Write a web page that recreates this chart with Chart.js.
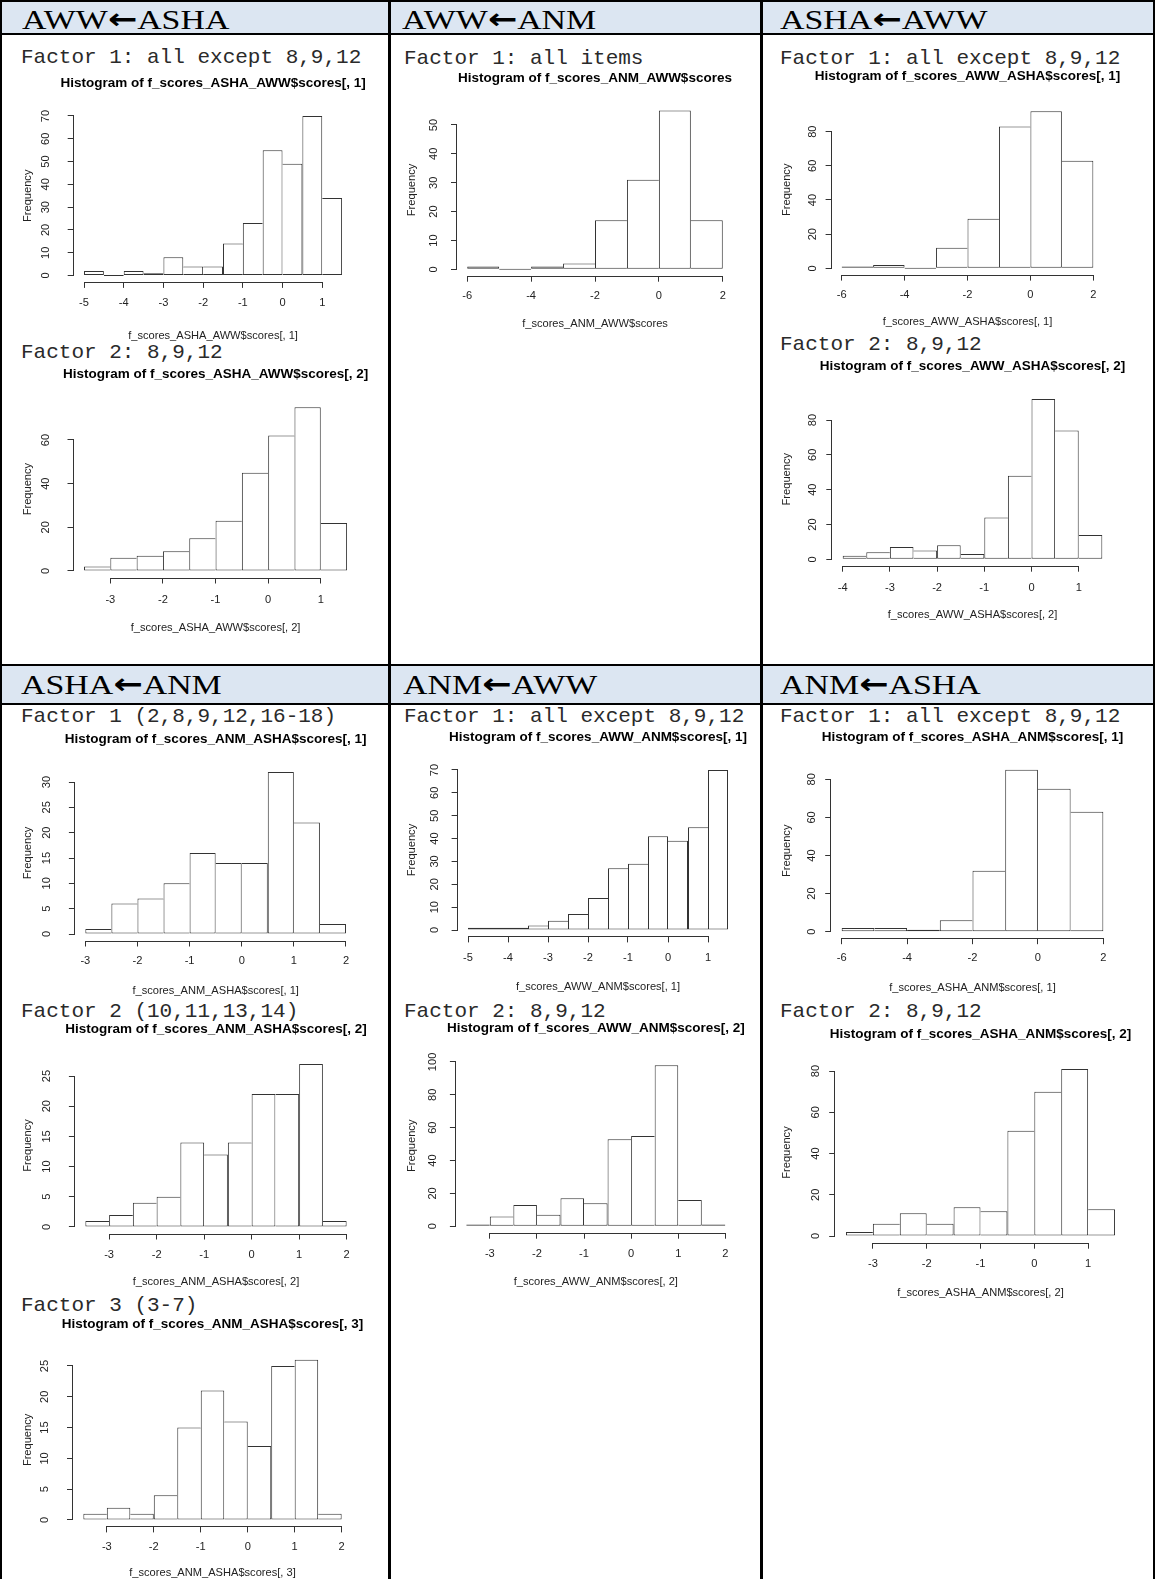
<!DOCTYPE html>
<html>
<head>
<meta charset="utf-8">
<title>Factor score histograms</title>
<script src="https://cdn.jsdelivr.net/npm/chart.js@4.4.1/dist/chart.umd.min.js"></script>
<style>
  html, body { margin: 0; padding: 0; background: #fff; }
  body { width: 1155px; height: 1579px; position: relative; overflow: hidden; }
  .band { position: absolute; background: #dce6f2; }
  .rule { position: absolute; background: #000; z-index: 5; }
  .head {
    position: absolute; white-space: nowrap; color: #000;
    font-family: "Liberation Serif", "Times New Roman", serif;
    font-size: 28px; line-height: 28px;
    transform-origin: 0 50%; transform: scaleX(1.21);
  }
  .head .arr { font-family: "DejaVu Sans", sans-serif; font-weight: bold; font-size: 29px; }
  .factor {
    position: absolute; white-space: nowrap; color: #2a2a2a;
    font-family: "Liberation Mono", "Courier New", monospace;
    font-size: 21px; line-height: 21px;
  }
  canvas { position: absolute; }
</style>
</head>
<body>
<script>
// ---- histogram data: bin breaks, bin counts, axis ticks ----
const breaksAshaAww1 = [-5, -4.5, -4, -3.5, -3, -2.5, -2, -1.5, -1, -0.5, 0, 0.5, 1, 1.5];
const countsAshaAww1 = [2, 0, 2, 1, 8, 4, 4, 14, 23, 55, 49, 70, 34];
const xTicksAshaAww1 = [-5, -4, -3, -2, -1, 0, 1];
const yTicksAshaAww1 = [0, 10, 20, 30, 40, 50, 60, 70];

const breaksAshaAww2 = [-3.5, -3, -2.5, -2, -1.5, -1, -0.5, 0, 0.5, 1, 1.5];
const countsAshaAww2 = [2, 6, 7, 9, 15, 23, 45, 62, 75, 22];
const xTicksAshaAww2 = [-3, -2, -1, 0, 1];
const yTicksAshaAww2 = [0, 20, 40, 60];

const breaksAnmAww = [-6, -5, -4, -3, -2, -1, 0, 1, 2];
const countsAnmAww = [1, 0, 1, 2, 17, 31, 55, 17];
const xTicksAnmAww = [-6, -4, -2, 0, 2];
const yTicksAnmAww = [0, 10, 20, 30, 40, 50];

const breaksAwwAsha1 = [-6, -5, -4, -3, -2, -1, 0, 1, 2];
const countsAwwAsha1 = [1, 2, 0, 12, 29, 83, 92, 63];
const xTicksAwwAsha1 = [-6, -4, -2, 0, 2];
const yTicksAwwAsha1 = [0, 20, 40, 60, 80];

const breaksAwwAsha2 = [-4, -3.5, -3, -2.5, -2, -1.5, -1, -0.5, 0, 0.5, 1, 1.5];
const countsAwwAsha2 = [2, 4, 7, 5, 8, 3, 24, 48, 92, 74, 14];
const xTicksAwwAsha2 = [-4, -3, -2, -1, 0, 1];
const yTicksAwwAsha2 = [0, 20, 40, 60, 80];

const breaksAnmAsha1 = [-3, -2.5, -2, -1.5, -1, -0.5, 0, 0.5, 1, 1.5, 2];
const countsAnmAsha1 = [1, 6, 7, 10, 16, 14, 14, 32, 22, 2];
const xTicksAnmAsha1 = [-3, -2, -1, 0, 1, 2];
const yTicksAnmAsha1 = [0, 5, 10, 15, 20, 25, 30];

const breaksAnmAsha2 = [-3.5, -3, -2.5, -2, -1.5, -1, -0.5, 0, 0.5, 1, 1.5, 2];
const countsAnmAsha2 = [1, 2, 4, 5, 14, 12, 14, 22, 22, 27, 1];
const xTicksAnmAsha2 = [-3, -2, -1, 0, 1, 2];
const yTicksAnmAsha2 = [0, 5, 10, 15, 20, 25];

const breaksAnmAsha3 = [-3.5, -3, -2.5, -2, -1.5, -1, -0.5, 0, 0.5, 1, 1.5, 2];
const countsAnmAsha3 = [1, 2, 1, 4, 15, 21, 16, 12, 25, 26, 1];
const xTicksAnmAsha3 = [-3, -2, -1, 0, 1, 2];
const yTicksAnmAsha3 = [0, 5, 10, 15, 20, 25];

const breaksAwwAnm1 = [-5, -4.5, -4, -3.5, -3, -2.5, -2, -1.5, -1, -0.5, 0, 0.5, 1, 1.5];
const countsAwwAnm1 = [1, 1, 1, 2, 4, 7, 14, 27, 29, 41, 39, 45, 70];
const xTicksAwwAnm1 = [-5, -4, -3, -2, -1, 0, 1];
const yTicksAwwAnm1 = [0, 10, 20, 30, 40, 50, 60, 70];

const breaksAwwAnm2 = [-3.5, -3, -2.5, -2, -1.5, -1, -0.5, 0, 0.5, 1, 1.5, 2];
const countsAwwAnm2 = [1, 6, 13, 7, 17, 14, 53, 55, 98, 16, 1];
const xTicksAwwAnm2 = [-3, -2, -1, 0, 1, 2];
const yTicksAwwAnm2 = [0, 20, 40, 60, 80, 100];

const breaksAshaAnm1 = [-6, -5, -4, -3, -2, -1, 0, 1, 2];
const countsAshaAnm1 = [2, 2, 1, 6, 32, 85, 75, 63];
const xTicksAshaAnm1 = [-6, -4, -2, 0, 2];
const yTicksAshaAnm1 = [0, 20, 40, 60, 80];

const breaksAshaAnm2 = [-3.5, -3, -2.5, -2, -1.5, -1, -0.5, 0, 0.5, 1, 1.5];
const countsAshaAnm2 = [2, 6, 11, 6, 14, 12, 51, 70, 81, 13];
const xTicksAshaAnm2 = [-3, -2, -1, 0, 1];
const yTicksAshaAnm2 = [0, 20, 40, 60, 80];

// ---- table text ----
const headings = ['AWW', 'ASHA', 'AWW', 'ANM', 'ASHA', 'AWW', 'ASHA', 'ANM', 'ANM', 'AWW', 'ANM', 'ASHA'];
const factorNotes = [
  'Factor 1: all except 8,9,12', 'Factor 2: 8,9,12', 'Factor 1: all items',
  'Factor 1: all except 8,9,12', 'Factor 2: 8,9,12',
  'Factor 1 (2,8,9,12,16-18)', 'Factor 2 (10,11,13,14)', 'Factor 3 (3-7)',
  'Factor 1: all except 8,9,12', 'Factor 2: 8,9,12',
  'Factor 1: all except 8,9,12', 'Factor 2: 8,9,12'
];

// ---- page layout ----
const colBounds = [[3, 387], [391, 759], [764, 1152]];
const colLabelGap = [28, 23, 19];   // y tick label centre, left of the plot region
const bands = [[0, 33], [666, 703]];
const rules = [
  [0, 0, 1155, 2], [0, 33, 1155, 2], [0, 663.5, 1155, 2.5], [0, 703, 1155, 2],
  [0, 0, 2, 1579], [388, 0, 2.5, 1579], [760, 0, 2.5, 1579], [1153, 0, 2, 1579]
];
const headPos = [[22, 19], [402, 19], [780, 19], [21, 684], [403, 684], [780, 684]];
const notePos = [[21, 56], [21, 351.5], [404, 57], [780, 57], [780, 343.5],
                 [21, 715], [21, 1010], [21, 1304], [404, 715], [404, 1010], [780, 715], [780, 1010]];

// plot region (L,R,T,B), title / tick-label / axis-title centres
const panels = [
  { col: 0, L: 73.7, R: 352.4, T: 109.6, B: 281.9, titleY: 83.5, xlY: 302.5, xtY: 336.3, fX: 28,
    breaks: breaksAshaAww1, counts: countsAshaAww1, xTicks: xTicksAshaAww1, yTicks: yTicksAshaAww1, name: 'f_scores_ASHA_AWW$scores[, 1]' },
  { col: 0, L: 73.5, R: 357.6, T: 400.7, B: 577.5, titleY: 374.5, xlY: 600, xtY: 627.5, fX: 28,
    breaks: breaksAshaAww2, counts: countsAshaAww2, xTicks: xTicksAshaAww2, yTicks: yTicksAshaAww2, name: 'f_scores_ASHA_AWW$scores[, 2]' },
  { col: 1, L: 457, R: 733, T: 104.2, B: 275.7, titleY: 78.5, xlY: 295.5, xtY: 323.5, fX: 412,
    breaks: breaksAnmAww, counts: countsAnmAww, xTicks: xTicksAnmAww, yTicks: yTicksAnmAww, name: 'f_scores_ANM_AWW$scores' },
  { col: 2, L: 831.6, R: 1103.4, T: 104.9, B: 274.6, titleY: 76.5, xlY: 295, xtY: 321.5, fX: 787,
    breaks: breaksAwwAsha1, counts: countsAwwAsha1, xTicks: xTicksAwwAsha1, yTicks: yTicksAwwAsha1, name: 'f_scores_AWW_ASHA$scores[, 1]' },
  { col: 2, L: 832.3, R: 1112.7, T: 392.7, B: 565.7, titleY: 366.5, xlY: 588, xtY: 614.5, fX: 787,
    breaks: breaksAwwAsha2, counts: countsAwwAsha2, xTicks: xTicksAwwAsha2, yTicks: yTicksAwwAsha2, name: 'f_scores_AWW_ASHA$scores[, 2]' },
  { col: 0, L: 74.9, R: 356.4, T: 765.4, B: 940.5, titleY: 739.5, xlY: 961, xtY: 991, fX: 28,
    breaks: breaksAnmAsha1, counts: countsAnmAsha1, xTicks: xTicksAnmAsha1, yTicks: yTicksAnmAsha1, name: 'f_scores_ANM_ASHA$scores[, 1]' },
  { col: 0, L: 74.9, R: 357.1, T: 1057.4, B: 1233.5, titleY: 1029.5, xlY: 1254.5, xtY: 1282, fX: 28,
    breaks: breaksAnmAsha2, counts: countsAnmAsha2, xTicks: xTicksAnmAsha2, yTicks: yTicksAnmAsha2, name: 'f_scores_ANM_ASHA$scores[, 2]' },
  { col: 0, L: 73, R: 352, T: 1353.4, B: 1526.4, titleY: 1324.5, xlY: 1547, xtY: 1573, fX: 28,
    breaks: breaksAnmAsha3, counts: countsAnmAsha3, xTicks: xTicksAnmAsha3, yTicks: yTicksAnmAsha3, name: 'f_scores_ANM_ASHA$scores[, 3]' },
  { col: 1, L: 457.6, R: 738.4, T: 763.6, B: 936.4, titleY: 737.5, xlY: 958, xtY: 987, fX: 412,
    breaks: breaksAwwAnm1, counts: countsAwwAnm1, xTicks: xTicksAwwAnm1, yTicks: yTicksAwwAnm1, name: 'f_scores_AWW_ANM$scores[, 1]' },
  { col: 1, L: 455.9, R: 735.7, T: 1058.8, B: 1232.7, titleY: 1028, xlY: 1254, xtY: 1281.5, fX: 412,
    breaks: breaksAwwAnm2, counts: countsAwwAnm2, xTicks: xTicksAwwAnm2, yTicks: yTicksAwwAnm2, name: 'f_scores_AWW_ANM$scores[, 2]' },
  { col: 2, L: 831.2, R: 1113.8, T: 763.3, B: 938.2, titleY: 737.5, xlY: 958, xtY: 988, fX: 787,
    breaks: breaksAshaAnm1, counts: countsAshaAnm1, xTicks: xTicksAshaAnm1, yTicks: yTicksAshaAnm1, name: 'f_scores_ASHA_ANM$scores[, 1]' },
  { col: 2, L: 835.2, R: 1125.8, T: 1062.3, B: 1242.7, titleY: 1034.5, xlY: 1264, xtY: 1292.5, fX: 787,
    breaks: breaksAshaAnm2, counts: countsAshaAnm2, xTicks: xTicksAshaAnm2, yTicks: yTicksAshaAnm2, name: 'f_scores_ASHA_ANM$scores[, 2]' }
];

// ---- styles ----
const FONT = '"Liberation Sans", Arial, Helvetica, sans-serif';
const AXIS_SIZE = 11.1;
const MAIN_SIZE = 13.5;
const TICK_LEN = 6;
const INK = '#222';
const BAR_LINE = '#333';

Chart.defaults.font.family = FONT;

// ---- table frame ----
function addDiv(cls, x, y, w, h) {
  const d = document.createElement('div');
  d.className = cls;
  d.style.left = x + 'px'; d.style.top = y + 'px';
  d.style.width = w + 'px'; d.style.height = h + 'px';
  document.body.appendChild(d);
  return d;
}
bands.forEach(([y0, y1]) => addDiv('band', 0, y0, 1155, y1 - y0));
rules.forEach(([x, y, w, h]) => addDiv('rule', x, y, w, h));

headPos.forEach(([x, cy], i) => {
  const d = document.createElement('div');
  d.className = 'head';
  d.style.left = x + 'px';
  d.style.top = (cy - 14) + 'px';
  d.innerHTML = headings[2 * i] + '<span class="arr">\u2190</span>' + headings[2 * i + 1];
  document.body.appendChild(d);
});
notePos.forEach(([x, cy], i) => {
  const d = document.createElement('div');
  d.className = 'factor';
  d.style.left = x + 'px';
  d.style.top = (cy - 0.45 * 21) + 'px';
  d.textContent = factorNotes[i];
  document.body.appendChild(d);
});

// ---- axis lines spanning first to last tick (base-graphics style) ----
const tickSpanAxes = {
  id: 'tickSpanAxes',
  afterDraw(chart) {
    const { ctx, chartArea, scales: { x, y } } = chart;
    ctx.save();
    ctx.strokeStyle = BAR_LINE;
    ctx.lineWidth = 1;
    ctx.beginPath();
    const by = Math.round(chartArea.bottom) + 0.5;
    ctx.moveTo(x.getPixelForValue(x.ticks[0].value), by);
    ctx.lineTo(x.getPixelForValue(x.ticks[x.ticks.length - 1].value), by);
    const lx = Math.round(chartArea.left) - 0.5;
    ctx.moveTo(lx, y.getPixelForValue(y.ticks[0].value));
    ctx.lineTo(lx, y.getPixelForValue(y.ticks[y.ticks.length - 1].value));
    ctx.stroke();
    ctx.restore();
  }
};

const measureCtx = document.createElement('canvas').getContext('2d');
measureCtx.font = AXIS_SIZE + 'px ' + FONT;

function drawPanel(p) {
  const [cl] = colBounds[p.col];
  const labelGap = colLabelGap[p.col];
  const lhMain = MAIN_SIZE * 1.2;
  const lhAxis = AXIS_SIZE * 1.2;
  const top = Math.floor(p.titleY - lhMain / 2 - 2);
  const height = Math.ceil(p.xtY + lhAxis / 2 + 2 - top);
  const yAxisW = p.L - cl;
  // an empty right-hand box as wide as the y axis keeps the main title centred over the plot
  const width = Math.ceil(p.L + p.R - 2 * cl);
  const padRight = width - (p.L + p.R - 2 * cl);

  const canvas = document.createElement('canvas');
  canvas.width = width; canvas.height = height;
  canvas.style.left = cl + 'px'; canvas.style.top = top + 'px';
  canvas.style.width = width + 'px'; canvas.style.height = height + 'px';
  document.body.appendChild(canvas);

  const b = p.breaks, c = p.counts;
  const xSpan = b[b.length - 1] - b[0];
  const yMax = Math.max(...c);
  const bars = c.map((v, i) => ({ x: (b[i] + b[i + 1]) / 2, y: v }));

  const widest = Math.max(...p.yTicks.map(v => measureCtx.measureText(String(v)).width));
  const xAxisH = top + height - p.B;

  new Chart(canvas, {
    type: 'bar',
    data: {
      datasets: [{
        data: bars,
        backgroundColor: '#ffffff',
        borderColor: BAR_LINE,
        borderWidth: 1,
        minBarLength: 1,
        inflateAmount: 0,
        barPercentage: 1,
        categoryPercentage: 1,
        borderSkipped(ctx) {
          const i = ctx.dataIndex;
          if (i > 0 && c[i - 1] >= c[i]) return 'left';
          if (i < c.length - 1 && c[i + 1] > c[i]) return 'right';
          return false;
        }
      }]
    },
    options: {
      responsive: false,
      animation: false,
      devicePixelRatio: 1,
      events: [],
      layout: { padding: { left: 0, top: 0, bottom: 0, right: padRight } },
      plugins: {
        legend: { display: false },
        tooltip: { enabled: false },
        title: {
          display: true,
          fullSize: true,
          text: 'Histogram of ' + p.name,
          color: '#000',
          font: { size: MAIN_SIZE, weight: 'bold', lineHeight: 1.2 },
          padding: { top: p.titleY - lhMain / 2 - top, bottom: p.T - (p.titleY + lhMain / 2) }
        }
      },
      scales: {
        x: {
          type: 'linear',
          bounds: 'data',
          offset: false,
          min: b[0] - 0.04 * xSpan,
          max: b[b.length - 1] + 0.04 * xSpan,
          afterBuildTicks(s) { s.ticks = p.xTicks.map(v => ({ value: v })); },
          afterFit(s) { s.height = xAxisH; s.paddingLeft = 0; s.paddingRight = 0; },
          grid: { display: true, drawOnChartArea: false, drawTicks: true, tickLength: TICK_LEN, color: BAR_LINE, offset: false },
          border: { display: false },
          ticks: {
            autoSkip: false, maxRotation: 0, minRotation: 0, color: INK,
            font: { size: AXIS_SIZE, lineHeight: 1.2 },
            padding: p.xlY - p.B - TICK_LEN - lhAxis / 2
          },
          title: {
            display: true, text: p.name, color: INK,
            font: { size: AXIS_SIZE, lineHeight: 1.2 },
            padding: { top: 0, bottom: top + height - p.xtY - lhAxis / 2 }
          }
        },
        y: {
          type: 'linear',
          bounds: 'data',
          min: -0.04 * yMax,
          max: 1.04 * yMax,
          afterBuildTicks(s) { s.ticks = p.yTicks.map(v => ({ value: v })); },
          afterFit(s) { s.width = yAxisW; s.paddingTop = 0; s.paddingBottom = 0; },
          grid: { display: true, drawOnChartArea: false, drawTicks: true, tickLength: TICK_LEN, color: BAR_LINE },
          border: { display: false },
          ticks: {
            autoSkip: false, minRotation: 90, maxRotation: 90, crossAlign: 'center', color: INK,
            font: { size: AXIS_SIZE, lineHeight: 1.2 },
            padding: labelGap - TICK_LEN - widest / 2
          },
          title: {
            display: true, text: 'Frequency', color: INK,
            font: { size: AXIS_SIZE, lineHeight: 1.2 },
            padding: { top: p.fX - cl - lhAxis / 2, bottom: 0 }
          }
        },
        margin: {
          type: 'linear',
          position: 'right',
          min: 0, max: 1,
          afterFit(s) { s.width = yAxisW; s.paddingTop = 0; s.paddingBottom = 0; },
          grid: { display: false },
          border: { display: false },
          ticks: { display: false },
          title: { display: false }
        }
      }
    },
    plugins: [tickSpanAxes]
  });
}

panels.forEach(drawPanel);
</script>
</body>
</html>
